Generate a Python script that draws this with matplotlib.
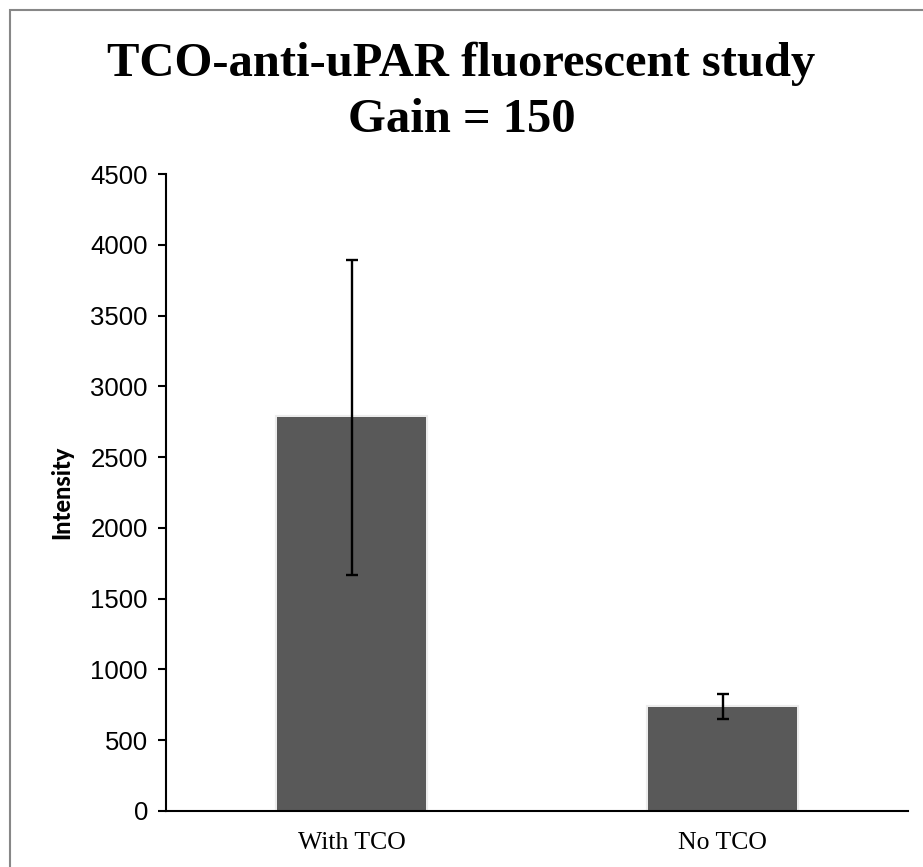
import matplotlib
matplotlib.use("Agg")
import matplotlib.pyplot as plt
from matplotlib.patches import Rectangle
import matplotlib.patheffects as pe

# Data
categories = ["With TCO", "No TCO"]
intensity = [2780, 737]
intensity_err = [1115, 90]
y_ticks = [0, 500, 1000, 1500, 2000, 2500, 3000, 3500, 4000, 4500]

W, H, DPI = 923, 867, 100
fig = plt.figure(figsize=(W / DPI, H / DPI), dpi=DPI)
fig.patch.set_facecolor("white")

# Outer chart-area frame (left and top edges visible)
frame = Rectangle((9.5 / W, -0.05), 1.2, 1 - 9.5 / H + 0.05,
                  transform=fig.transFigure, fill=False,
                  edgecolor="#878787", linewidth=1.5, zorder=0)
fig.add_artist(frame)

ax = fig.add_axes([166 / W, (H - 811) / H, (908 - 166) / W, (811 - 174) / H])

x = list(range(len(categories)))
bars = ax.bar(x, intensity, width=0.4, color="#595959", zorder=2,
              path_effects=[pe.Stroke(linewidth=3, foreground="#ececec"), pe.Normal()])
ax.errorbar(x, intensity, yerr=intensity_err, fmt="none", ecolor="black",
            elinewidth=1.7, capsize=4.5, capthick=1.7, zorder=3)

ax.set_xlim(-0.5, 1.5)
ax.set_ylim(0, 4500)
ax.set_yticks(y_ticks)
ax.set_yticklabels([str(v) for v in y_ticks], fontfamily="Liberation Sans", fontsize=18.5)
ax.set_xticks(x)
ax.set_xticklabels(categories, fontfamily="Liberation Serif", fontsize=18.5)

for s in ("top", "right"):
    ax.spines[s].set_visible(False)
for s in ("left", "bottom"):
    ax.spines[s].set_linewidth(1.5)
    ax.spines[s].set_color("black")

ax.tick_params(axis="y", direction="out", length=6, width=1.5, pad=7)
ax.tick_params(axis="x", length=0, pad=15)

ax.set_ylabel("Intensity", fontfamily="Lato", fontweight="black", fontsize=17)
ax.yaxis.set_label_coords(73 / W, (H - 492) / H, transform=fig.transFigure)

fig.text(0.5, (H - 64) / H, "TCO-anti-uPAR fluorescent study", ha="center", va="center",
         fontfamily="Liberation Serif", fontweight="bold", fontsize=35)
fig.text(0.5, (H - 120) / H, "Gain = 150", ha="center", va="center",
         fontfamily="Liberation Serif", fontweight="bold", fontsize=35)

fig.savefig("out.png", dpi=DPI)
